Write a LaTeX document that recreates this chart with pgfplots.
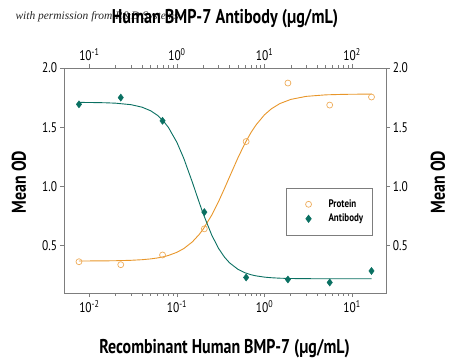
\documentclass[border=0pt]{standalone}
\usepackage{fontspec}
\setmainfont{PT Sans}
\newfontfamily\wmfont{Liberation Serif}
\usepackage{graphicx}
\usepackage{pgfplots}
\pgfplotsset{compat=1.18}
\definecolor{cor}{RGB}{232,150,42}
\definecolor{corl}{RGB}{238,172,90}
\definecolor{cteal}{RGB}{10,112,98}
\definecolor{cframe}{RGB}{125,125,125}

\pgfplotsset{
  bmpaxis/.style={
    at={(0bp,0bp)}, anchor=south west, scale only axis,
    width=322bp, height=225bp,
    ymin=0.1, ymax=2.0,
    axis line style={cframe, line width=0.8bp},
    tick style={cframe, line width=0.7bp},
    tick align=outside,
    major tick length=4bp, minor tick length=2.5bp,
    ytick={0.5,1,1.5,2}, yticklabels={0.5,1.0,1.5,2.0},
    ticklabel style={font=\fontsize{14}{14}\selectfont, xscale=0.82},
  },
  markleg/.style={legend image code/.code={\path (0bp,0bp); \draw[##1] plot coordinates {(15bp,0bp)};}},
}

\pgfplotstableread{
x y
0.00762 0.364
0.02286 0.339
0.06859 0.421
0.2058 0.642
0.6173 1.379
1.852 1.873
5.556 1.687
16.67 1.755
}\protein
\pgfplotstableread{
x y
0.00762 1.693
0.02286 1.750
0.06859 1.554
0.2058 0.783
0.6173 0.231
1.852 0.214
5.556 0.189
16.67 0.286
}\antibody
\pgfplotstableread{
x y
0.00762 0.3703
0.01 0.3706
0.015 0.3714
0.02 0.3726
0.03 0.3761
0.04 0.3812
0.05 0.3878
0.06 0.3960
0.07 0.4057
0.08 0.4169
0.1 0.4436
0.12 0.4754
0.15 0.5314
0.18 0.5949
0.2 0.6402
0.25 0.7578
0.3 0.8745
0.35 0.9838
0.4 1.0825
0.5 1.2448
0.6 1.3653
0.7 1.4537
0.8 1.5189
1.0 1.6047
1.2 1.6557
1.5 1.6997
2 1.7350
3 1.7605
5 1.7733
8 1.7775
12 1.7789
16.67 1.7795
}\proteinfit
\pgfplotstableread{
x y
0.00762 1.7094
0.01 1.7088
0.015 1.7066
0.02 1.7029
0.03 1.6901
0.04 1.6691
0.05 1.6392
0.06 1.6003
0.07 1.5530
0.08 1.4982
0.1 1.3723
0.12 1.2358
0.15 1.0362
0.18 0.8636
0.2 0.7676
0.25 0.5885
0.3 0.4748
0.35 0.4020
0.4 0.3542
0.5 0.2990
0.6 0.2706
0.7 0.2545
0.8 0.2447
1.0 0.2341
1.2 0.2289
1.5 0.2250
2 0.2224
3 0.2209
5 0.2203
8 0.2201
12 0.2200
16.67 0.2200
}\antibodyfit

\begin{document}
\begin{tikzpicture}
\begin{semilogxaxis}[bmpaxis,
  xmin=0.00514, xmax=24.4,
  xtick={0.01,0.1,1,10},
  xticklabels={10\textsuperscript{-2},10\textsuperscript{-1},10\textsuperscript{0},10\textsuperscript{1}},
  xtick pos=bottom, ytick pos=left,
  legend style={at={(0.689,0.468)}, anchor=north west, draw=cframe, line width=0.7bp,
    inner xsep=7bp, inner ysep=9bp,
    font=\bfseries\fontsize{11}{11}\selectfont,
    nodes={inner sep=2bp, text height=8bp, text depth=2.5bp},
    /tikz/every odd column/.append style={column sep=15bp}},
  legend cell align=left,
]
\addplot[cor, line width=0.9bp, forget plot] table {\proteinfit};
\addplot[cteal, line width=0.9bp, forget plot] table {\antibodyfit};
\addplot[only marks, mark=o, mark size=3bp, mark options={corl, line width=0.7bp}, markleg]
  table {\protein};
\addlegendentry{\scalebox{0.82}[1]{Protein}}
\addplot[only marks, mark=diamond*, mark size=3.6bp, mark options={cteal, fill=cteal}, markleg]
  table {\antibody};
\addlegendentry{\scalebox{0.82}[1]{Antibody}}
\end{semilogxaxis}
\begin{semilogxaxis}[bmpaxis,
  xmin=0.0514, xmax=244,
  xtick={0.1,1,10,100},
  xticklabels={10\textsuperscript{-1},10\textsuperscript{0},10\textsuperscript{1},10\textsuperscript{2}},
  xtick pos=top, xticklabel pos=top, ytick pos=right, yticklabel pos=right,
]
\end{semilogxaxis}
\node[anchor=west, font=\wmfont\itshape\fontsize{11.5}{11.5}\selectfont, text=black!85] at (-52bp,276bp) {with permission from R\&D Systems};
\node[font=\bfseries\fontsize{20}{20}\selectfont, xscale=0.81] at (161bp,274bp) {Human BMP-7 Antibody (µg/mL)};
\node[font=\bfseries\fontsize{20}{20}\selectfont, xscale=0.8] at (160.5bp,-56bp) {Recombinant Human BMP-7 (µg/mL)};
\node[font=\bfseries\fontsize{20}{20}\selectfont, rotate=90, xscale=0.8] at (-45bp,111bp) {Mean OD};
\node[font=\bfseries\fontsize{20}{20}\selectfont, rotate=90, xscale=0.8] at (374bp,111bp) {Mean OD};
\useasboundingbox (-64bp,-69bp) rectangle (386bp,293bp);
\end{tikzpicture}
\end{document}
